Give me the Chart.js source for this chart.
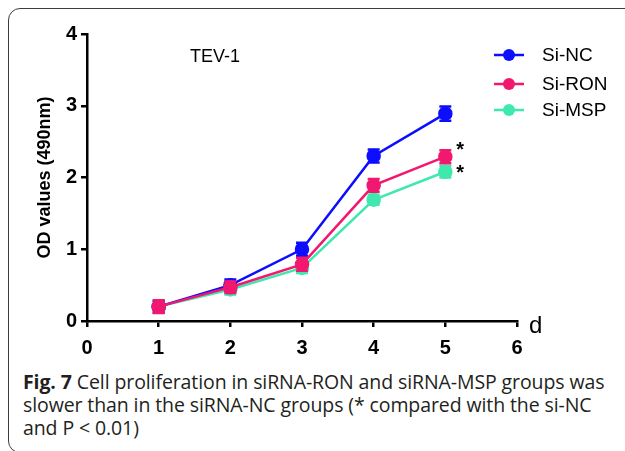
<!DOCTYPE html>
<html>
<head>
<meta charset="utf-8">
<script src="https://cdn.jsdelivr.net/npm/chart.js@4"></script>
<style>
  html, body { margin: 0; padding: 0; background: #fff; overflow: hidden; }
  #wrap { position: relative; width: 625px; height: 451px; overflow: hidden; }
  #frame {
    position: absolute; left: 8px; top: 8px; width: 700px; height: 445px;
    border: 1.5px solid #3c3c3c; border-radius: 12px; box-sizing: border-box;
  }
  #chartBox { position: absolute; left: 0; top: 0; width: 625px; height: 365px; }
  #caption {
    position: absolute; left: 23px; top: 370px; width: 600px;
    font-family: "Open Sans", sans-serif; font-size: 19.5px; line-height: 23px;
    color: #231f20; letter-spacing: -0.1px;
  }
  #caption b { font-weight: 700; }
</style>
</head>
<body>
<div id="wrap">
  <div id="frame"></div>
  <div id="chartBox"><canvas id="myChart" width="625" height="365"></canvas></div>
  <div id="caption"><b>Fig. 7</b> Cell proliferation in siRNA-RON and siRNA-MSP groups was slower than in the siRNA-NC groups (* compared with the si-NC and P &lt; 0.01)</div>
</div>
<script>
// days on x axis
const days = [1, 2, 3, 4, 5]
const seriesNames = ['Si-NC', 'Si-RON', 'Si-MSP']
const siNC = [0.2, 0.5, 1.0, 2.3, 2.89]
const siRON = [0.2, 0.47, 0.79, 1.89, 2.29]
const siMSP = [0.2, 0.44, 0.74, 1.69, 2.08]
// error bar half-heights
const errNC = [0.08, 0.08, 0.09, 0.09, 0.1]
const errRON = [0.09, 0.08, 0.09, 0.09, 0.09]
const errMSP = [0.08, 0.07, 0.07, 0.07, 0.08]
const colors = ['#0d0dff', '#f2186f', '#3fe9ae']
const starred = [false, true, true]
const xTicks = [0, 1, 2, 3, 4, 5, 6]
const yTicks = [0, 1, 2, 3, 4]

const FONT = 'Liberation Sans, Arial, sans-serif'

function points(vals) {
    return days.map((d, i) => ({ x: d, y: vals[i] }))
}

const allVals = [siNC, siRON, siMSP]
const allErr = [errNC, errRON, errMSP]

const datasets = seriesNames.map((name, i) => ({
    label: name,
    data: points(allVals[i]),
    borderColor: colors[i],
    backgroundColor: colors[i],
    pointBackgroundColor: colors[i],
    pointBorderColor: colors[i],
    pointRadius: 6,
    pointHoverRadius: 6,
    borderWidth: 2.5,
    err: allErr[i],
    order: [1, 0, 2][i]
}))

// error bars drawn with each dataset
const errorBars = {
    id: 'errorBars',
    beforeDatasetDraw(chart, args) {
        const ds = chart.data.datasets[args.index]
        const meta = args.meta
        const ys = chart.scales.y
        const ctx = chart.ctx
        ctx.save()
        ctx.strokeStyle = ds.borderColor
        ctx.lineWidth = 2.5
        meta.data.forEach((pt, j) => {
            const v = ds.data[j].y
            const top = ys.getPixelForValue(v + ds.err[j])
            const bot = ys.getPixelForValue(v - ds.err[j])
            ctx.beginPath()
            ctx.moveTo(pt.x, top); ctx.lineTo(pt.x, bot)
            ctx.moveTo(pt.x - 6, top); ctx.lineTo(pt.x + 6, top)
            ctx.moveTo(pt.x - 6, bot); ctx.lineTo(pt.x + 6, bot)
            ctx.stroke()
        })
        ctx.restore()
    }
}

// legend, title text, asterisks, "d"
const extras = {
    id: 'extras',
    afterDraw(chart) {
        const ctx = chart.ctx
        const xs = chart.scales.x, ys = chart.scales.y
        ctx.save()
        ctx.fillStyle = '#000'
        ctx.font = '18px ' + FONT
        ctx.textBaseline = 'middle'
        ctx.fillText('TEV-1', 190, 57)

        const rowY = [55, 84, 110]
        seriesNames.forEach((name, i) => {
            ctx.strokeStyle = colors[i]
            ctx.lineWidth = 2.5
            ctx.beginPath(); ctx.moveTo(494, rowY[i]); ctx.lineTo(524, rowY[i]); ctx.stroke()
            ctx.fillStyle = colors[i]
            ctx.beginPath(); ctx.arc(509, rowY[i], 6, 0, Math.PI * 2); ctx.fill()
            ctx.fillStyle = '#000'
            ctx.font = '19px ' + FONT
            ctx.fillText(name, 542, rowY[i] + 1)
        })

        ctx.font = 'bold 20px ' + FONT
        const last = days.length - 1
        const starLift = [0, 8, 0]
        allVals.forEach((vals, i) => {
            if (!starred[i]) return
            ctx.fillText('*', xs.getPixelForValue(days[last]) + 11, ys.getPixelForValue(vals[last]) - starLift[i] + 2)
        })

        ctx.font = '24px ' + FONT
        ctx.fillText('d', 529, 326)
        ctx.restore()
    }
}

function renderChart() {
    const chartEl = document.getElementById('myChart')
    new Chart(chartEl, {
        type: 'line',
        data: { datasets: datasets },
        options: {
            responsive: false,
            animation: false,
            events: [],
            layout: { padding: { left: 34, top: 34, right: 108, bottom: 0 } },
            plugins: { legend: { display: false }, tooltip: { enabled: false } },
            scales: {
                x: {
                    type: 'linear', min: 0, max: 6,
                    afterFit(s) { s.height = 365 - 321 },
                    afterBuildTicks(s) { s.ticks = xTicks.map(v => ({ value: v })) },
                    border: { color: '#000', width: 2.5 },
                    grid: { drawOnChartArea: false, tickLength: 6, color: '#000', lineWidth: 2.5 },
                    ticks: { color: '#000', padding: 9, font: { family: FONT, size: 20, weight: 'bold' } }
                },
                y: {
                    min: 0, max: 4,
                    afterFit(s) { s.width = 87 - 34 },
                    afterBuildTicks(s) { s.ticks = yTicks.map(v => ({ value: v })) },
                    border: { color: '#000', width: 2.5 },
                    grid: { drawOnChartArea: false, tickLength: 6, color: '#000', lineWidth: 2.5 },
                    ticks: { color: '#000', padding: 4, font: { family: FONT, size: 20, weight: 'bold' } },
                    title: { display: true, text: 'OD values (490nm)', color: '#000', padding: { top: 0, bottom: 0 },
                        font: { family: FONT, size: 18, weight: 'bold' } }
                }
            }
        },
        plugins: [errorBars, extras]
    })
}

renderChart()
</script>
</body>
</html>
